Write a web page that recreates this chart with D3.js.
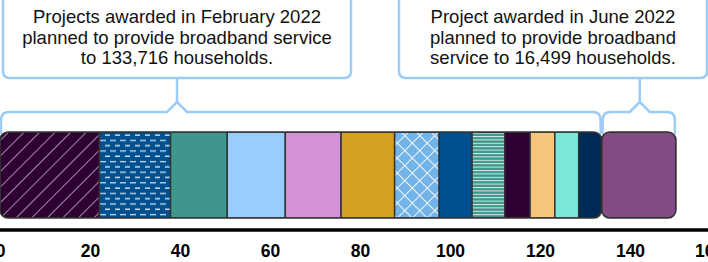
<!DOCTYPE html>
<html>
<head>
<meta charset="utf-8">
<script src="https://cdn.jsdelivr.net/npm/d3@7"></script>
<style>
  body { margin: 0; background: #fff; }
  text { font-family: "Liberation Sans", Arial, sans-serif; }
</style>
</head>
<body>
<div id="chart-area"></div>
<script>
// households (thousands) per project, by award round
var febValues = [22.1, 15.8, 12.6, 12.9, 12.4, 11.9, 9.9, 7.3, 7.3, 5.6, 5.5, 5.3, 5.1];
var junValues = [16.499];
var tickValues = [0, 20, 40, 60, 80, 100, 120, 140, 160];
var febText = ["Projects awarded in February 2022", "planned to provide broadband service", "to 133,716 households."];
var junText = ["Project awarded in June 2022", "planned to provide broadband", "service to 16,499 households."];

// fills for each segment (pattern ids or colours)
var febFills = ["url(#diag)", "url(#dash)", "#3f968d", "#99ccff", "#d393d6", "#d5a021",
                "url(#cross)", "#00508f", "url(#hstripe)", "#2e0033", "#f5c57b", "#7be8da", "#002a56"];
var junFills = ["#844a84"];

var width = 708, height = 262;

var svg = d3.select("#chart-area").append("svg")
    .attr("width", width)
    .attr("height", height);

var x = d3.scaleLinear()
    .domain([0, 160])
    .range([0, 720]);

var barTop = 132, barH = 86, radius = 8;
var outline = "#333";
var calloutColor = "#9ccbf5";

// patterns
var defs = svg.append("defs");

var p = defs.append("pattern").attr("id", "diag")
    .attr("patternUnits", "userSpaceOnUse").attr("width", 11).attr("height", 11)
    .attr("patternTransform", "rotate(45)");
p.append("rect").attr("width", 11).attr("height", 11).attr("fill", "#2e0033");
p.append("line").attr("x1", 0).attr("y1", 0).attr("x2", 0).attr("y2", 11)
    .attr("stroke", "#d9c9d9").attr("stroke-width", 1.4);

p = defs.append("pattern").attr("id", "dash")
    .attr("patternUnits", "userSpaceOnUse").attr("width", 10).attr("height", 10.6);
p.append("rect").attr("width", 10).attr("height", 10.6).attr("fill", "#00508f");
p.append("line").attr("x1", 0).attr("y1", 2.6).attr("x2", 6).attr("y2", 2.6)
    .attr("stroke", "#c9d6e6").attr("stroke-width", 1.3);
p.append("line").attr("x1", 5).attr("y1", 7.9).attr("x2", 11).attr("y2", 7.9)
    .attr("stroke", "#eef3f8").attr("stroke-width", 1.3);

p = defs.append("pattern").attr("id", "cross")
    .attr("patternUnits", "userSpaceOnUse").attr("width", 10.6).attr("height", 10.6)
    .attr("patternTransform", "rotate(45)");
p.append("rect").attr("width", 10.6).attr("height", 10.6).attr("fill", "#72b3e8");
p.append("line").attr("x1", 0).attr("y1", 0).attr("x2", 10.6).attr("y2", 0)
    .attr("stroke", "#f2f7fc").attr("stroke-width", 2);
p.append("line").attr("x1", 0).attr("y1", 0).attr("x2", 0).attr("y2", 10.6)
    .attr("stroke", "#f2f7fc").attr("stroke-width", 2);

p = defs.append("pattern").attr("id", "hstripe")
    .attr("patternUnits", "userSpaceOnUse").attr("width", 10).attr("height", 3.4);
p.append("rect").attr("width", 10).attr("height", 3.4).attr("fill", "#3f968d");
p.append("line").attr("x1", 0).attr("y1", 0.5).attr("x2", 10).attr("y2", 0.5)
    .attr("stroke", "#d7ece9").attr("stroke-width", 1);

// stacked bar groups
function drawGroup(values, fills, start, id) {
  var cum = start;
  var segs = values.map(function(v, i) {
    var s = { x0: cum, x1: cum + v, fill: fills[i] };
    cum += v;
    return s;
  });

  defs.append("clipPath").attr("id", "clip-" + id)
    .append("rect")
      .attr("x", x(start)).attr("y", barTop)
      .attr("width", x(cum) - x(start)).attr("height", barH)
      .attr("rx", radius);

  var g = svg.append("g").attr("clip-path", "url(#clip-" + id + ")");
  g.selectAll("rect").data(segs).enter().append("rect")
    .attr("x", function(d) { return x(d.x0); })
    .attr("y", barTop)
    .attr("width", function(d) { return x(d.x1) - x(d.x0); })
    .attr("height", barH)
    .attr("fill", function(d) { return d.fill; })
    .attr("stroke", outline)
    .attr("stroke-width", 1.5);

  svg.append("rect")
    .attr("x", x(start)).attr("y", barTop)
    .attr("width", x(cum) - x(start)).attr("height", barH)
    .attr("rx", radius)
    .attr("fill", "none")
    .attr("stroke", outline)
    .attr("stroke-width", 1.6);

  return cum;
}

var febEnd = drawGroup(febValues, febFills, 0, "feb");
var junEnd = drawGroup(junValues, junFills, febEnd, "jun");

// axis
var xAxis = d3.axisBottom(x).tickValues(tickValues).tickSize(0).tickPadding(0);
var axisG = svg.append("g")
    .attr("class", "x-axis axis")
    .attr("transform", "translate(0,230)")
    .call(xAxis);
axisG.select(".domain").remove();
axisG.append("line")
    .attr("x1", 0).attr("x2", width)
    .attr("stroke", "#000").attr("stroke-width", 3.5);
axisG.selectAll(".tick text")
    .attr("y", 26.5)
    .attr("dy", 0)
    .attr("dx", function(d) { return d === 160 ? -11 : 0; })
    .attr("fill", "#000")
    .style("font-size", "17.5px")
    .style("font-weight", "bold")
    .style("font-family", "'Liberation Sans', Arial, sans-serif");

// callouts
function callout(lines, bx0, bx1, a, b, cx) {
  var xa = x(a), xb = x(b);
  var boxBottom = 78;
  svg.append("rect")
    .attr("x", bx0).attr("y", -12)
    .attr("width", bx1 - bx0).attr("height", boxBottom + 12)
    .attr("rx", 6)
    .attr("fill", "#fff")
    .attr("stroke", calloutColor)
    .attr("stroke-width", 2.5);

  var t = svg.append("text")
    .attr("text-anchor", "middle")
    .attr("fill", "#111")
    .style("font-size", "18.5px");
  t.selectAll("tspan").data(lines).enter().append("tspan")
    .attr("x", (bx0 + bx1) / 2)
    .attr("y", function(d, i) { return 23 + i * 20.5; })
    .text(function(d) { return d; });

  var by = 112, peak = 102, bot = 134, r = 8;
  var path = d3.path();
  path.moveTo(xa + 1, bot);
  path.lineTo(xa + 1, by + r);
  path.quadraticCurveTo(xa + 1, by, xa + 1 + r, by);
  path.lineTo(cx - 10, by);
  path.lineTo(cx, peak);
  path.lineTo(cx + 10, by);
  path.lineTo(xb - 1 - r, by);
  path.quadraticCurveTo(xb - 1, by, xb - 1, by + r);
  path.lineTo(xb - 1, bot);
  path.moveTo(cx, peak);
  path.lineTo(cx, boxBottom + 1);
  svg.append("path")
    .attr("d", path.toString())
    .attr("fill", "none")
    .attr("stroke", calloutColor)
    .attr("stroke-width", 2.5);
}

callout(febText, 3, 351, 0, febEnd, 177);
callout(junText, 399, 707, febEnd, junEnd, x((febEnd + junEnd) / 2) + 1);
</script>
</body>
</html>
